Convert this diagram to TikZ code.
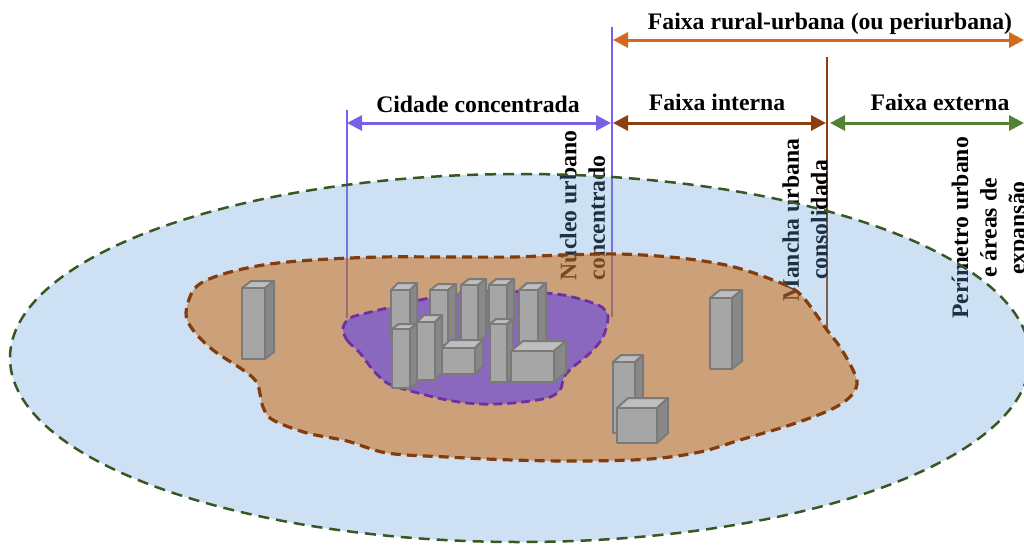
\documentclass[tikz,border=0pt]{standalone}
\usepackage{fontspec}
\setmainfont{Liberation Serif}
\usetikzlibrary{arrows.meta}

\definecolor{skyfill}{RGB}{100,160,220}
\definecolor{skyline}{RGB}{56,87,35}
\definecolor{peri}{RGB}{203,98,0}
\definecolor{periline}{RGB}{132,60,12}
\definecolor{core}{RGB}{110,80,220}
\definecolor{coreline}{RGB}{112,48,160}
\definecolor{violetln}{RGB}{118,98,232}
\definecolor{brownln}{RGB}{139,62,15}
\definecolor{orangeln}{RGB}{210,105,30}
\definecolor{greenln}{RGB}{84,130,53}
\definecolor{bfront}{RGB}{166,166,166}
\definecolor{bside}{RGB}{136,136,136}
\definecolor{btop}{RGB}{190,190,190}
\definecolor{bedge}{RGB}{122,122,122}

% a box-shaped building: front face (x1,y1)-(x2,y2), depth (dx,dy)
\newcommand{\bldg}[6]{%
  \filldraw[bface, fill=btop] (#1,#2) -- ({#1+#5},{#2-#6}) -- ({#3+#5},{#2-#6}) -- (#3,#2) -- cycle;
  \filldraw[bface, fill=bside] (#3,#2) -- ({#3+#5},{#2-#6}) -- ({#3+#5},{#4-#6}) -- (#3,#4) -- cycle;
  \filldraw[bface, fill=bfront] (#1,#2) rectangle (#3,#4);
}

\begin{document}
\begin{tikzpicture}[x=1pt,y=-1pt,
  bface/.style={draw=bedge, line width=2pt, line join=round},
  lbl/.style={font=\fontsize{23.7}{28.5}\selectfont\bfseries, inner sep=0pt},
  rot/.style={lbl, rotate=90},
  dim/.style={line width=3pt, {Triangle[length=15pt,width=15pt]}-{Triangle[length=15pt,width=15pt]}},
  guide/.style={line width=1.5pt}]
\useasboundingbox (0,0) rectangle (1024,544);
\fill[white] (0,0) rectangle (1024,544);
\clip (0,0) rectangle (1024,544);

% boundary guides
\coordinate (cityL) at (347,110);
\coordinate (cityLb) at (347,318);
\coordinate (coreR) at (612,27);
\coordinate (coreRb) at (612,317);
\coordinate (inR) at (827,57);
\coordinate (inRb) at (827,330);
\draw[guide, violetln] (cityL) -- (cityLb);
\draw[guide, violetln] (coreR) -- (coreRb);
\draw[guide, brownln] (inR) -- (inRb);

% vertical captions (lying under the translucent areas)
\node[rot, align=left] (nucleo) at (582.5,205.5) {Núcleo urbano\\concentrado};
\node[rot, align=center] (mancha) at (805,220) {Mancha urbana\\consolidada};
\node[rot, align=center] (perim) at (991,228) {Perímetro urbano\\e áreas de\\expansão};

% urban expansion perimeter
\filldraw[fill=skyfill, fill opacity=0.31, draw=skyline, line width=2.5pt,
  dash pattern=on 11pt off 7pt] (520,358) ellipse [x radius=510, y radius=184];

% consolidated urban patch
\filldraw[fill=peri, fill opacity=0.5, draw=periline, line width=3.2pt,
  dash pattern=on 10pt off 6pt]
  plot[smooth cycle, tension=0.55] coordinates {
  (186,313) (195,288) (220,275) (263,265) (313,260) (380,257) (447,257)
  (513,257) (563,255) (620,254) (680,258) (730,266) (773,280) (800,294)
  (827,330) (840,347) (853,370) (857,384) (850,397) (830,410) (790,425)
  (740,440) (700,452) (650,459) (580,461) (513,460) (447,457) (387,453)
  (347,441) (307,433) (273,420) (263,407) (257,383) (243,370) (213,350)
  (193,330)};

% concentrated core
\filldraw[fill=core, fill opacity=0.7, draw=coreline, line width=2.8pt,
  dash pattern=on 9pt off 5pt]
  plot[smooth cycle, tension=0.55] coordinates {
  (343,328) (347,340) (360,353) (373,370) (387,383) (407,390) (447,400)
  (480,404) (513,403) (547,398) (560,390) (564,377) (573,367) (590,353)
  (603,337) (608,317) (603,308) (590,302) (563,295) (530,292) (490,291)
  (457,293) (420,300) (387,308) (367,313) (350,318)};

% buildings
\bldg{242}{288}{265}{359}{9}{7}
\bldg{391}{290}{410}{340}{7}{7}
\bldg{430}{290}{448}{345}{8}{6}
\bldg{461}{285}{478}{342}{8}{6}
\bldg{489}{285}{507}{330}{7}{6}
\bldg{519}{290}{538}{348}{8}{7}
\bldg{392}{329}{410}{388}{7}{5}
\bldg{417}{322}{435}{380}{7}{7}
\bldg{442}{348}{475}{374}{8}{8}
\bldg{490}{324}{507}{382}{6}{5}
\bldg{511}{351}{554}{382}{12}{10}
\bldg{613}{362}{635}{433}{8}{7}
\bldg{617}{408}{657}{443}{11}{10}
\bldg{710}{298}{732}{369}{10}{8}

% dimension arrows
\coordinate (a1) at (347,123);
\coordinate (a2) at (611,123);
\coordinate (a3) at (613,123);
\coordinate (a4) at (826,123);
\coordinate (a5) at (830,123);
\coordinate (a6) at (1024,123);
\coordinate (o1) at (613,40);
\coordinate (o2) at (1024,40);
\draw[dim, violetln] (a1) -- (a2);
\draw[dim, brownln] (a3) -- (a4);
\draw[dim, greenln] (a5) -- (a6);
\draw[dim, orangeln] (o1) -- (o2);

\node[lbl, anchor=base] (lrural) at (830,29) {Faixa rural-urbana (ou periurbana)};
\node[lbl, anchor=base] (lcity) at (478,112) {Cidade concentrada};
\node[lbl, anchor=base] (lint) at (717,110) {Faixa interna};
\node[lbl, anchor=base] (lext) at (940,110) {Faixa externa};
\end{tikzpicture}
\end{document}
